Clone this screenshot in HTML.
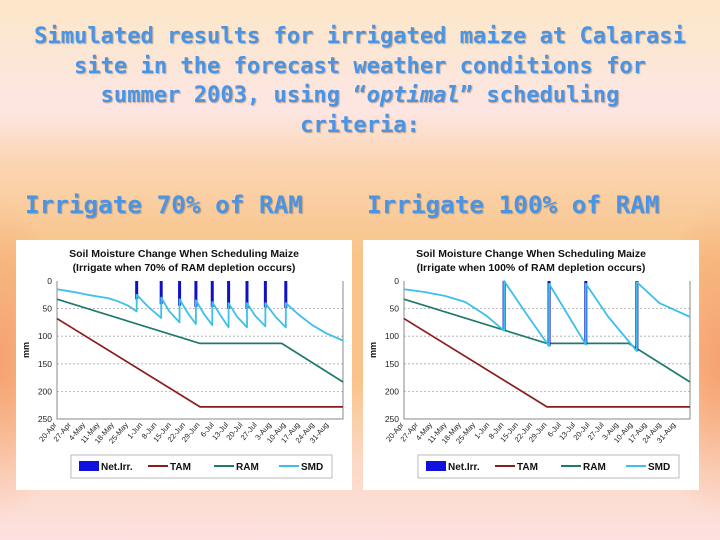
<!DOCTYPE html>
<html><head><meta charset="utf-8"><style>
html,body{margin:0;padding:0}
body{width:720px;height:540px;position:relative;overflow:hidden;
background:linear-gradient(180deg,#fce7c8 0px,#fde6e3 110px,#fbd6b4 160px,#f8c386 260px,#f9c48c 380px,#fbd9c4 460px,#fde1e0 540px);}
#glow{position:absolute;left:0;top:0;width:720px;height:540px;
background:radial-gradient(ellipse 70px 160px at 0px 360px,rgba(245,150,105,.75),rgba(245,150,105,0)),radial-gradient(ellipse 70px 160px at 720px 360px,rgba(245,150,105,.75),rgba(245,150,105,0));}
.t{position:absolute;font-family:"DejaVu Sans Mono","Liberation Mono",monospace;font-weight:bold;color:#4a94e6;text-shadow:1px 1px 1px rgba(120,90,60,.45);white-space:nowrap}
#title{left:0;width:720px;top:22px;text-align:center;font-size:22.1px;line-height:29.5px}
.sub{top:190px;font-size:24.3px}
svg{position:absolute;top:0;left:0}
</style></head><body>
<div id="glow"></div>
<div class="t" id="title">Simulated results for irrigated maize at Calarasi<br>site in the forecast weather conditions for<br>summer 2003, using “<i>optimal</i>” scheduling<br>criteria:</div>
<div class="t sub" style="left:25px">Irrigate 70% of RAM</div>
<div class="t sub" style="left:367px">Irrigate 100% of RAM</div>
<svg id="chart" width="720" height="540" xmlns="http://www.w3.org/2000/svg" font-family="Liberation Sans, Arial, sans-serif"></svg>
<script>
const tickLabels=["20-Apr","27-Apr","4-May","11-May","18-May","25-May","1-Jun","8-Jun","15-Jun","22-Jun","29-Jun","6-Jul","13-Jul","20-Jul","27-Jul","3-Aug","10-Aug","17-Aug","24-Aug","31-Aug"];
const yTicks=[0,50,100,150,200,250];
const tamDays=[0,70,140];
const tamVals=[68,228,228];
const ramDays=[0,70,110,140];
const ramVals=[33,113,113,183];
const smdDaysA=[0,5,10,15,20,25,30,35,39,39,45,51,51,55,60,60,64,68,68,72,76,76,80,84,84,88,93,93,97,102,102,107,112,112,118,125,132,140];
const smdValsA=[15,18,21,25,28,31,37,45,55,25,48,67,30,55,75,33,58,78,35,60,80,38,62,84,40,64,84,40,63,82,40,65,84,40,60,80,95,108];
const irrDaysA=[39,51,60,68,76,84,93,102,112];
const irrValsA=[33,42,45,47,47,50,50,48,49];
const smdDaysB=[0,10,20,30,40,49,49,60,71,71,80,89,89,100,114,114,125,140];
const smdValsB=[15,20,27,38,62,90,0,60,118,5,60,115,5,65,127,2,40,65];
const irrDaysB=[49,71,89,114];
const irrValsB=[90,118,115,127];

const NS="http://www.w3.org/2000/svg";
const svg=document.getElementById('chart');
function mk(tag,attrs,parent){const e=document.createElementNS(NS,tag);for(const k in attrs)e.setAttribute(k,attrs[k]);(parent||svg).appendChild(e);return e;}

function chart(ox,sub,smdD,smdV,irrD,irrV,key){
  const g=mk('g',{});
  
  
  const L=ox+41,R=ox+327,T=281,B=419;
  const x=d=>L+d*(R-L)/140, y=v=>T+v*(B-T)/250;
  const bg=mk('rect',{x:ox,y:240,width:336,height:250,fill:'#fff'},g);
  
  
  const t1=mk('text',{x:ox+168,y:257,'text-anchor':'middle','font-size':10.5,'font-weight':'bold',fill:'#111'},g);
  t1.textContent='Soil Moisture Change When Scheduling Maize';
  
  
  const t2=mk('text',{x:ox+168,y:271,'text-anchor':'middle','font-size':10.5,'font-weight':'bold',fill:'#111'},g);
  t2.textContent='(Irrigate when '+sub+' of RAM depletion occurs)';
  
  
  yTicks.forEach(v=>{
    if(v>0&&v<250){const gl=mk('line',{x1:L,x2:R,y1:y(v),y2:y(v),stroke:'#aaa','stroke-dasharray':'2,2','stroke-width':.8},g);
    
    }
    const tl=mk('text',{x:L-5,y:y(v)+3,'text-anchor':'end','font-size':8.5,fill:'#222'},g);
    tl.textContent=v;
    
    
  });
  const fr=mk('path',{d:`M${L},${T}V${B}H${R}V${T}`,fill:'none',stroke:'#888','stroke-width':1},g);
  
  
  const yl=mk('text',{transform:`translate(${ox+13},${(T+B)/2}) rotate(-90)`,'text-anchor':'middle','font-size':9,'font-weight':'bold',fill:'#111'},g);
  yl.textContent='mm';
  
  
  tickLabels.forEach((s,i)=>{
    const tx=x(i*7);
    const xl=mk('text',{transform:`translate(${tx},${B+6}) rotate(-50)`,'text-anchor':'end','font-size':7.5,fill:'#222'},g);
    xl.textContent=s;
    
    
  });
  const line=(D,V,c,w,name)=>{const p=mk('polyline',{points:D.map((d,i)=>x(d)+','+y(V[i])).join(' '),fill:'none',stroke:c,'stroke-width':w,'stroke-linejoin':'round'},g);
    
    };
  line(tamDays,tamVals,'#8b1c1c',1.7,'tam-line');
  line(ramDays,ramVals,'#1f7a6c',1.7,'ram-line');
  irrD.forEach((d,i)=>{const b=mk('rect',{x:x(d)-1.5,y:y(0),width:3,height:y(irrV[i])-y(0),fill:'#1010c8'},g);
    
    });
  line(smdD,smdV,'#3cc0ea',1.8,'smd-line');
  const lg=mk('g',{},g);
  
  
  mk('rect',{x:ox+55,y:455,width:261,height:23,fill:'#fff',stroke:'#aaa','stroke-width':.8},lg);
  const ent=[['Net.Irr.','#1010e0',1],['TAM','#8b1c1c',0],['RAM','#1f7a6c',0],['SMD','#3cc0ea',0]];
  const ex=[ox+63,ox+132,ox+198,ox+263];
  ent.forEach((e,i)=>{
    const eg=mk('g',{},lg);
    
    
    if(e[2]) mk('rect',{x:ex[i],y:461,width:20,height:10,fill:e[1]},eg);
    else mk('line',{x1:ex[i],x2:ex[i]+20,y1:466,y2:466,stroke:e[1],'stroke-width':2},eg);
    const tt=mk('text',{x:ex[i]+22,y:470,'font-size':10,'font-weight':'bold',fill:'#111'},eg);
    tt.textContent=e[0];
  });
}
chart(16,'70%',smdDaysA,smdValsA,irrDaysA,irrValsA,'70');
chart(363,'100%',smdDaysB,smdValsB,irrDaysB,irrValsB,'100');
</script>
</body></html>
